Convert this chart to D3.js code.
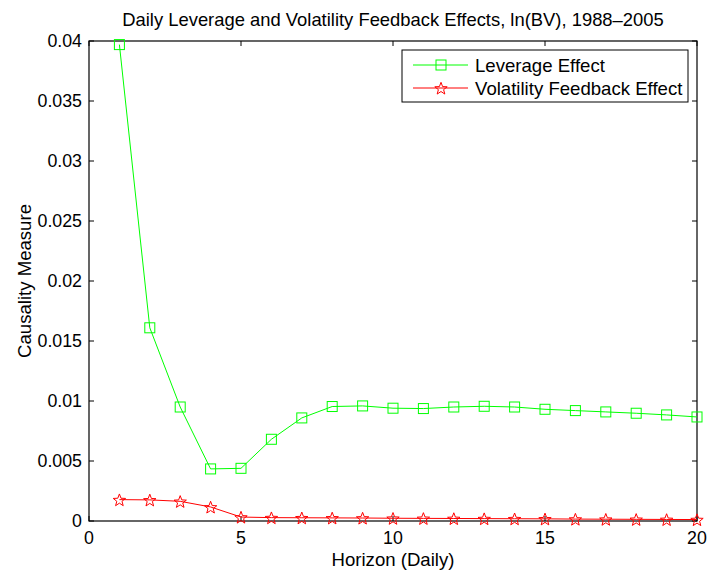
<!DOCTYPE html>
<html><head><meta charset="utf-8">
<script src="https://cdn.jsdelivr.net/npm/d3@7"></script>
<style>body{margin:0;background:#fff}svg{display:block}text{font-family:"Liberation Sans",Arial,sans-serif;fill:#000}</style>
</head><body><svg id="c" width="710" height="572"></svg>
<script>
const horizons = d3.range(1, 21);
const leverage = [0.0397,0.0161,0.0095,0.00434,0.00439,0.00681,0.00859,0.00954,0.00959,0.0094,0.00937,0.0095,0.00956,0.0095,0.00931,0.0092,0.00909,0.00898,0.00884,0.00867];
const feedback = [0.00178,0.00176,0.00164,0.00117,0.00033,0.00028,0.00027,0.00026,0.00025,0.00023,0.00022,0.00021,0.0002,0.00019,0.00018,0.00016,0.00015,0.00014,0.00013,0.00012];
const xTicks = [0,5,10,15,20];
const yTicks = [0,0.005,0.01,0.015,0.02,0.025,0.03,0.035,0.04];
const seriesNames = ["Leverage Effect","Volatility Feedback Effect"];
const title = "Daily Leverage and Volatility Feedback Effects, ln(BV), 1988\u20132005";

const L=89,R=697,T=41,B=521;
const svg=d3.select("#c");
const x=d3.scaleLinear().domain([0,20]).range([L,R]);
const y=d3.scaleLinear().domain([0,0.04]).range([B,T]);
const fsT=17.8, fsL=18.6;

// axes box
svg.append("rect").attr("x",L).attr("y",T).attr("width",R-L).attr("height",B-T).attr("fill","none").attr("stroke","#000").attr("stroke-width",1.2);
const tl=5;
const ax=svg.append("g").attr("stroke","#000").attr("stroke-width",1);
xTicks.forEach(v=>{
  ax.append("line").attr("x1",x(v)).attr("x2",x(v)).attr("y1",B).attr("y2",B-tl);
  ax.append("line").attr("x1",x(v)).attr("x2",x(v)).attr("y1",T).attr("y2",T+tl);
});
yTicks.forEach(v=>{
  ax.append("line").attr("y1",y(v)).attr("y2",y(v)).attr("x1",L).attr("x2",L+tl);
  ax.append("line").attr("y1",y(v)).attr("y2",y(v)).attr("x1",R).attr("x2",R-tl);
});
svg.append("g").selectAll("text").data(xTicks).join("text")
  .attr("x",d=>x(d)).attr("y",544).attr("text-anchor","middle").attr("font-size",fsT).text(d=>d3.format("")(d));
svg.append("g").selectAll("text").data(yTicks).join("text")
  .attr("x",L-7).attr("y",d=>y(d)+6.3).attr("text-anchor","end").attr("font-size",fsT).text(d=>d===0?"0":String(+d.toFixed(3)));

svg.append("text").attr("x",(L+R)/2).attr("y",566).attr("text-anchor","middle").attr("font-size",fsL).text("Horizon (Daily)");
svg.append("text").attr("transform",`translate(31,${(T+B)/2}) rotate(-90)`).attr("text-anchor","middle").attr("font-size",fsL).text("Causality Measure");
svg.append("text").attr("x",(L+R)/2).attr("y",26).attr("text-anchor","middle").attr("font-size",18.4).text(title);

function starPath(cx,cy,ro){
  const ri=ro*0.42;const pts=[];
  for(let i=0;i<10;i++){const r=i%2?ri:ro;const a=-Math.PI/2+i*Math.PI/5;pts.push([cx+r*Math.cos(a),cy+r*Math.sin(a)]);}
  return "M"+pts.map(p=>p.join(",")).join("L")+"Z";
}
const line=d3.line().x((d,i)=>x(horizons[i])).y(d=>y(d));
const G="#00ff00",Rc="#ff0000";
svg.append("path").datum(leverage).attr("d",line).attr("fill","none").attr("stroke",G).attr("stroke-width",1);
svg.append("path").datum(feedback).attr("d",line).attr("fill","none").attr("stroke",Rc).attr("stroke-width",1);
svg.append("g").selectAll("rect").data(leverage).join("rect")
  .attr("x",(d,i)=>x(horizons[i])-5).attr("y",d=>y(d)-5).attr("width",10).attr("height",10)
  .attr("fill","none").attr("stroke",G).attr("stroke-width",1);
svg.append("g").selectAll("path").data(feedback).join("path")
  .attr("d",(d,i)=>starPath(x(horizons[i]),y(d)+0.8,6.5)).attr("fill","none").attr("stroke",Rc).attr("stroke-width",1);

// legend
const lg=svg.append("g");
lg.append("rect").attr("x",402).attr("y",50).attr("width",286).attr("height",52).attr("fill","#fff").attr("stroke","#000").attr("stroke-width",1);
[[65,G,"sq"],[88,Rc,"st"]].forEach(([yy,c,m],i)=>{
  lg.append("line").attr("x1",413).attr("x2",468).attr("y1",yy).attr("y2",yy).attr("stroke",c);
  if(m==="sq") lg.append("rect").attr("x",436).attr("y",yy-5).attr("width",10).attr("height",10).attr("fill","none").attr("stroke",c);
  else lg.append("path").attr("d",starPath(441,yy+0.8,6.5)).attr("fill","none").attr("stroke",c);
  lg.append("text").attr("x",475).attr("y",yy+6.5).attr("font-size",fsL).text(seriesNames[i]);
});
</script></body></html>
